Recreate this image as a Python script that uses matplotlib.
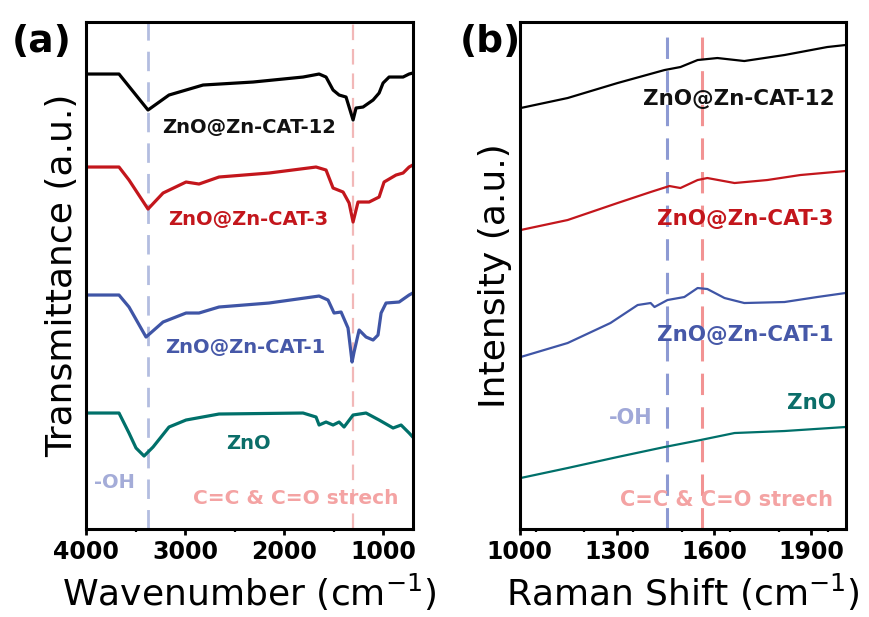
import matplotlib
matplotlib.use("Agg")
import matplotlib.pyplot as plt
from matplotlib.ticker import MultipleLocator

plt.rcParams['font.family'] = ['DejaVu Sans']
plt.rcParams['mathtext.fontset'] = 'dejavusans'

# (a) FTIR, wavenumber (cm-1) vs transmittance (a.u., curves stacked)
ir_wn = {
    'cat12': [4000, 3667, 3374, 3162, 2818, 2313, 1808, 1646, 1576, 1505, 1444, 1374, 1303, 1273, 1202, 1101, 1040, 1000, 939, 798, 737, 700],
    'cat3': [4000, 3667, 3566, 3374, 3222, 2990, 2859, 2657, 2152, 1677, 1576, 1505, 1404, 1343, 1303, 1253, 1141, 1040, 990, 869, 798, 737, 700],
    'cat1': [4000, 3667, 3566, 3394, 3222, 2990, 2859, 2657, 2152, 1646, 1556, 1495, 1424, 1354, 1313, 1293, 1242, 1172, 1101, 1051, 1020, 970, 838, 737, 700],
    'zno': [4000, 3667, 3566, 3495, 3414, 3323, 3162, 2990, 2657, 1808, 1677, 1646, 1576, 1505, 1444, 1394, 1303, 1172, 1040, 899, 818, 737, 700],
}
ir_t = {
    'cat12': [455, 455, 419, 434, 444, 447, 452, 455, 452, 439, 434, 432, 409, 421, 422, 429, 436, 446, 452, 452, 455, 456],
    'cat3': [362, 362, 349, 320, 336, 347, 345, 352, 356, 362, 359, 341, 337, 326, 307, 327, 327, 332, 347, 354, 356, 362, 364],
    'cat1': [234, 234, 222, 192, 207, 216, 216, 222, 226, 233, 229, 216, 217, 201, 167, 177, 199, 192, 189, 194, 216, 226, 227, 234, 236],
    'zno': [116, 116, 96, 81, 73, 82, 102, 109, 115, 116, 112, 104, 107, 104, 107, 102, 114, 116, 109, 101, 104, 96, 92],
}

# (b) Raman, shift (cm-1) vs intensity (a.u., curves stacked)
ra_x = {
    'cat12': [1003, 1148, 1302, 1447, 1496, 1549, 1610, 1693, 1817, 1949, 2005],
    'cat3': [1003, 1148, 1302, 1404, 1462, 1496, 1549, 1579, 1663, 1764, 1866, 2005],
    'cat1': [1003, 1148, 1280, 1364, 1404, 1416, 1456, 1508, 1549, 1579, 1632, 1693, 1817, 1918, 2005],
    'zno': [1003, 1148, 1302, 1447, 1558, 1663, 1817, 2005],
}
ra_y = {
    'cat12': [421, 431, 446, 459, 462, 469, 471, 468, 474, 482, 484],
    'cat3': [299, 309, 326, 337, 343, 341, 349, 351, 346, 349, 354, 358],
    'cat1': [172, 186, 206, 224, 226, 222, 229, 232, 241, 240, 231, 226, 227, 232, 236],
    'zno': [51, 61, 72, 82, 89, 96, 98, 102],
}

keys = ['cat12', 'cat3', 'cat1', 'zno']
names = ['ZnO@Zn-CAT-12', 'ZnO@Zn-CAT-3', 'ZnO@Zn-CAT-1', 'ZnO']
colors = ['#000000', '#c3161c', '#3f55a6', '#00706a']
label_colors = ['#111111', '#c3161c', '#4658a8', '#0b6e69']

ir_lines = [3374, 1300]
ra_lines = [1455, 1563]

fig = plt.figure(figsize=(8.69, 6.17), dpi=100)
ax1 = fig.add_axes([0.099, 0.1426, 0.376, 0.8217])
ax2 = fig.add_axes([0.598, 0.1426, 0.376, 0.8217])

for k, c in zip(keys, colors):
    ax1.plot(ir_wn[k], ir_t[k], color=c, lw=2.3, solid_joinstyle='round')
    ax2.plot(ra_x[k], ra_y[k], color=c, lw=1.6)

ax1.axvline(ir_lines[0], color='#b3bde0', lw=2, dashes=(7, 4), zorder=0)
ax1.axvline(ir_lines[1], color='#f2b8b8', lw=1.6, dashes=(7, 4), zorder=0)
ax2.axvline(ra_lines[0], color='#8d9ad3', lw=2.2, ymax=0.975, dashes=(7, 4), zorder=0)
ax2.axvline(ra_lines[1], color='#f29393', lw=2.2, ymax=0.975, dashes=(7, 4), zorder=0)

# panel (a) labels
ax1.set_xlim(4000, 700)
ax1.set_ylim(0, 507)
pos1 = [(2354, 402), (2364, 310), (2394, 182), (2360, 86)]
for (x, y), n, c in zip(pos1, names, label_colors):
    ax1.text(x, y, n, color=c, fontsize=14, fontweight='bold', ha='center', va='center')
ax1.text(3710, 47, '-OH', color='#a4acd8', fontsize=14, fontweight='bold', ha='center', va='center')
ax1.text(1880, 31, 'C=C & C=O strech', color='#f4a3a3', fontsize=14.5, fontweight='bold', ha='center', va='center')

# panel (b) labels
ax2.set_xlim(1000, 2008)
ax2.set_ylim(0, 507)
pos2 = [(1675, 430), (1697, 310), (1697, 194), (1900, 126)]
for (x, y), n, c in zip(pos2, names, label_colors):
    ax2.text(x, y, n, color=c, fontsize=15.5, fontweight='bold', ha='center', va='center')
ax2.text(1342, 111, '-OH', color='#a0a8d8', fontsize=15, fontweight='bold', ha='center', va='center')
ax2.text(1638, 29, 'C=C & C=O strech', color='#f4a3a3', fontsize=15, fontweight='bold', ha='center', va='center')

ax1.set_xticks([4000, 3000, 2000, 1000])
ax1.xaxis.set_minor_locator(MultipleLocator(500))
ax2.set_xticks([1000, 1300, 1600, 1900])
ax2.xaxis.set_minor_locator(MultipleLocator(150))

for ax in (ax1, ax2):
    for s in ax.spines.values():
        s.set_linewidth(2.2)
    ax.set_yticks([])
    ax.tick_params(axis='x', which='major', direction='out', length=4, width=2, labelsize=17, pad=4)
    ax.tick_params(axis='x', which='minor', direction='out', length=2.5, width=1.6)
    for t in ax.get_xticklabels():
        t.set_fontweight('bold')

ax1.set_xlabel('Wavenumber (cm$^{-1}$)', fontsize=26)
ax1.set_ylabel('Transmittance (a.u.)', fontsize=26)
ax2.set_xlabel('Raman Shift (cm$^{-1}$)', fontsize=26)
ax2.set_ylabel('Intensity (a.u.)', fontsize=26)
ax1.xaxis.set_label_coords(0.5, -0.085)
ax2.xaxis.set_label_coords(0.5, -0.085)
ax1.yaxis.set_label_coords(-0.022, 0.5)
ax2.yaxis.set_label_coords(-0.022, 0.5)

fig.text(42 / 869, 1 - 42 / 617, '(a)', fontsize=27, fontweight='bold', ha='center', va='center')
fig.text(490 / 869, 1 - 42 / 617, '(b)', fontsize=27, fontweight='bold', ha='center', va='center')

fig.savefig('out.png', dpi=100)
